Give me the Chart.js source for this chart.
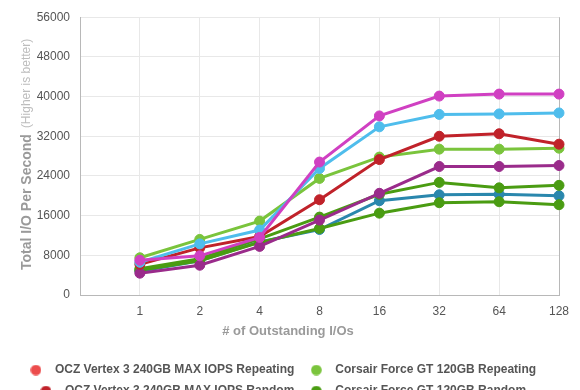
<!DOCTYPE html>
<html><head><meta charset="utf-8">
<script src="https://cdn.jsdelivr.net/npm/chart.js@4/dist/chart.umd.min.js"></script>
<style>html,body{margin:0;padding:0;overflow:hidden;background:#fff}#wrap{width:580px;height:470px;position:relative}</style>
</head><body><div id="wrap"><canvas id="c"></canvas></div>
<script>
// ---- data ----
const categories = ['1', '2', '4', '8', '16', '32', '64', '128'];
const yTickStep = 8000;
const yMax = 56000;
const yTitle = 'Total I/O Per Second';
const yTitleNote = '(Higher is better)';
const xTitle = '# of Outstanding I/Os';

const seriesNames = [
  'OCZ Vertex 3 240GB MAX IOPS Repeating',
  'Corsair Force GT 120GB Repeating',
  'OCZ Vertex 3 240GB MAX IOPS Random',
  'Corsair Force GT 120GB Random',
  'OCZ Vertex 3 120GB Repeating',
  'OCZ Vertex 3 120GB Random',
  'Intel SSD 510 250GB Repeating',
  'Intel SSD 510 250GB Random',
  'Crucial m4 256GB Random'
];
const ocz240Repeating   = [];
const corsairRepeating  = [7500, 11200, 14900, 23500, 27800, 29400, 29400, 29600];
const ocz240Random      = [6200, 9500, 11800, 19200, 27300, 32000, 32500, 30400];
const corsairRandom     = [5300, 7300, 11300, 15700, 20300, 22700, 21600, 22100];
const ocz120Repeating   = [6600, 10300, 13100, 25500, 33900, 36400, 36500, 36700];
const ocz120Random      = [4800, 6900, 10700, 13200, 19000, 20200, 20300, 20000];
const intelRepeating    = [7000, 7900, 11600, 26800, 36100, 40100, 40500, 40500];
const intelRandom       = [4400, 6000, 9800, 15100, 20500, 25900, 25900, 26100];
const crucialRandom     = [5000, 6900, 10600, 13400, 16500, 18600, 18800, 18200];

const seriesValues = [ocz240Repeating, corsairRepeating, ocz240Random, corsairRandom,
  ocz120Repeating, ocz120Random, intelRepeating, intelRandom, crucialRandom];
const seriesColors = ['#ec4c4c', '#7ac43c', '#c0222a', '#4a9c12', '#4fbdec', '#2a87ad', '#d040c2', '#9a2b8b', '#4a9c12'];
const drawOrder    = [9, 4, 3, 6, 2, 8, 1, 5, 7];

// ---- chart ----
function dot(color) {
  const c = document.createElement('canvas');
  c.width = 11; c.height = 11;
  const g = c.getContext('2d');
  g.fillStyle = color;
  g.beginPath(); g.arc(5.5, 5.5, 5.3, 0, Math.PI * 2); g.fill();
  return c;
}

const titles = {
  id: 'titles',
  afterDraw(chart) {
    const ctx = chart.ctx;
    ctx.save();
    ctx.translate(27, 270);
    ctx.rotate(-Math.PI / 2);
    ctx.textBaseline = 'middle';
    ctx.textAlign = 'left';
    ctx.font = 'bold 14px "Liberation Sans", Arial, sans-serif';
    ctx.fillStyle = '#9a9a9a';
    ctx.fillText(yTitle, 0, 0);
    const w = ctx.measureText(yTitle).width;
    ctx.font = '12px "Liberation Sans", Arial, sans-serif';
    ctx.fillStyle = '#bdbdbd';
    ctx.fillText(yTitleNote, w + 6, 0);
    ctx.restore();
    ctx.save();
    ctx.font = 'bold 13px "Liberation Sans", Arial, sans-serif';
    ctx.fillStyle = '#9a9a9a';
    ctx.textAlign = 'center';
    ctx.textBaseline = 'middle';
    ctx.fillText(xTitle, 288, 331);
    ctx.restore();
  }
};

const labels = [''].concat(categories);
const datasets = seriesNames.map((name, i) => ({
  label: name,
  data: seriesValues[i].length ? [null].concat(seriesValues[i]) : [],
  borderColor: seriesColors[i],
  backgroundColor: seriesColors[i],
  pointBackgroundColor: seriesColors[i],
  pointBorderColor: seriesColors[i],
  borderWidth: 3,
  pointRadius: 5,
  pointBorderWidth: 1,
  tension: 0,
  order: drawOrder[i]
}));

const defaultGen = Chart.defaults.plugins.legend.labels.generateLabels;
const font = '"Liberation Sans", Arial, sans-serif';

new Chart(document.getElementById('c'), {
  type: 'line',
  data: { labels, datasets },
  options: {
    responsive: true,
    maintainAspectRatio: false,
    animation: false,
    devicePixelRatio: 1,
    layout: { padding: { top: 15, right: 21, left: 0, bottom: 0 } },
    plugins: {
      tooltip: { enabled: false },
      legend: {
        position: 'bottom',
        labels: {
          usePointStyle: true,
          pointStyleWidth: 26,
          padding: 9,
          color: '#555',
          font: { family: font, size: 12, weight: 'bold' },
          generateLabels(chart) {
            const items = defaultGen(chart);
            items.sort((a, b) => a.datasetIndex - b.datasetIndex);
            items.forEach(it => { it.pointStyle = dot(seriesColors[it.datasetIndex]); it.hidden = false; });
            return items;
          }
        }
      }
    },
    scales: {
      x: {
        type: 'category',
        grid: {
          drawTicks: false,
          color: c => (c.index === labels.length - 1 ? '#b8b8b8' : '#e8e8e8')
        },
        border: { color: '#b8b8b8' },
        ticks: { color: '#555', font: { family: font, size: 12 }, padding: 9, autoSkip: false, maxRotation: 0 },
        title: { display: true, text: ' ', font: { family: font, size: 13 }, padding: { top: 6, bottom: 6 } }
      },
      y: {
        min: 0,
        max: yMax,
        grid: { drawTicks: false, color: '#e8e8e8' },
        border: { color: '#b8b8b8' },
        ticks: { stepSize: yTickStep, color: '#555', font: { family: font, size: 12 }, padding: 10,
                 callback: v => String(v) },
        afterFit(s) { s.width = 80; }
      }
    }
  },
  plugins: [titles]
});
</script>
</body></html>
